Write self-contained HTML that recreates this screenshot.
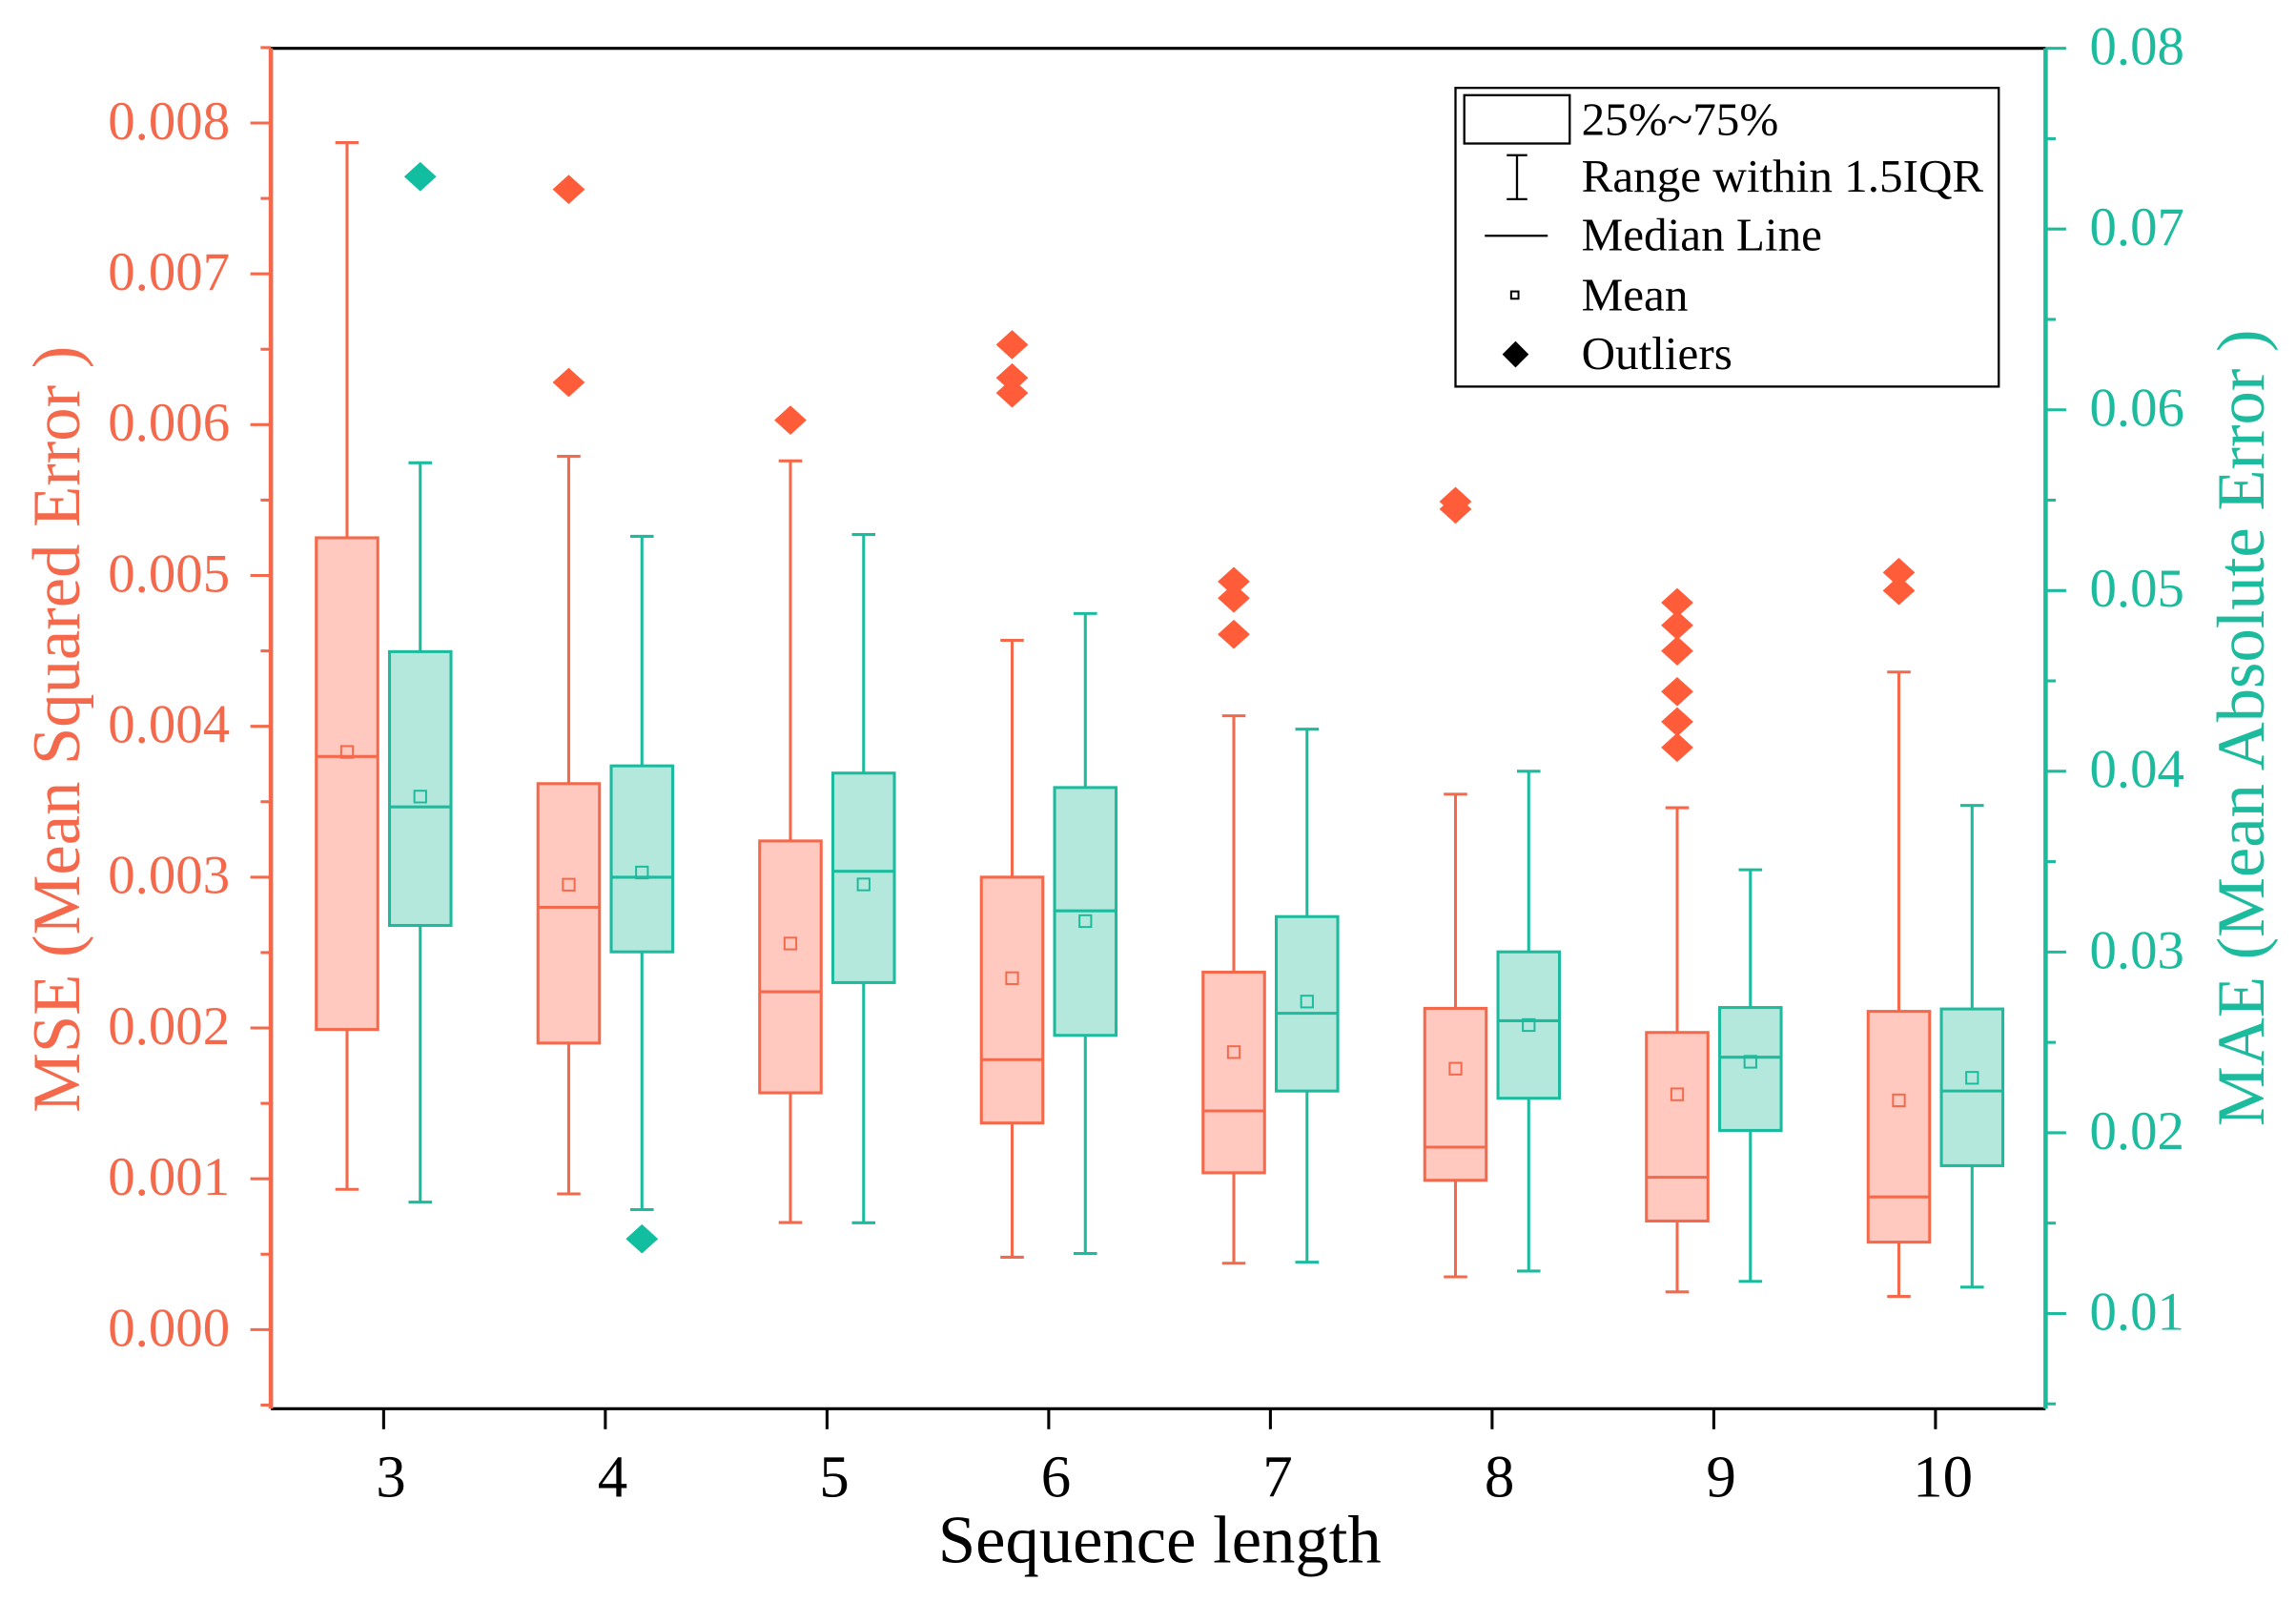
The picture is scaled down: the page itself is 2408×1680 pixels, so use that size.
<!DOCTYPE html>
<html><head><meta charset="utf-8"><style>
html,body{margin:0;padding:0;background:#fff;}
svg{display:block;font-family:"Liberation Serif",serif;}
</style></head><body>
<svg id="chart" width="2408" height="1680" viewBox="0 0 1568 1094" preserveAspectRatio="none" xmlns="http://www.w3.org/2000/svg"></svg>
<script>
const categories = ["3","4","5","6","7","8","9","10"];
const mseLow = [0.00093,0.0009,0.00071,0.00048,0.00044,0.00035,0.00025,0.00022];
const mseQ1 = [0.00199,0.0019,0.00157,0.00137,0.00104,0.00099,0.00072,0.00058];
const mseMed = [0.0038,0.0028,0.00224,0.00179,0.00145,0.00121,0.00101,0.00088];
const mseQ3 = [0.00525,0.00362,0.00324,0.003,0.00237,0.00213,0.00197,0.00211];
const mseHigh = [0.00787,0.00579,0.00576,0.00457,0.00407,0.00355,0.00346,0.00436];
const mseMean = [0.00383,0.00295,0.00256,0.00233,0.00184,0.00173,0.00156,0.00152];
const mseOut = [[],[0.00756,0.00628],[0.00603],[0.00653,0.00631,0.00621],[0.00496,0.00485,0.00461],[0.00549,0.00544],[0.00482,0.00467,0.0045,0.00423,0.00403,0.00386],[0.00502,0.0049]];
const maeLow = [0.01616,0.01575,0.01502,0.01332,0.01284,0.01235,0.01178,0.01146];
const maeQ1 = [0.03147,0.03001,0.02831,0.02539,0.02231,0.02191,0.02013,0.01818];
const maeMed = [0.03803,0.03414,0.03447,0.03228,0.02661,0.0262,0.02418,0.02231];
const maeQ3 = [0.04662,0.0403,0.0399,0.0391,0.03196,0.03001,0.02693,0.02685];
const maeHigh = [0.05707,0.053,0.0531,0.04873,0.04233,0.04,0.03455,0.03811];
const maeMean = [0.0386,0.0344,0.03374,0.03171,0.02726,0.02596,0.02393,0.02304];
const maeOut = [[0.0729],[0.01413],[],[],[],[],[],[]];
const leftTicks = ["0.000","0.001","0.002","0.003","0.004","0.005","0.006","0.007","0.008"];
const rightTicks = ["0.01","0.02","0.03","0.04","0.05","0.06","0.07","0.08"];

const NS="http://www.w3.org/2000/svg";
const svg=document.getElementById('chart');
const RED="#F4694B", TEAL="#1DBB9E";
const X0=185,X1=1397,Y0=33,Y1=962;
const yL=v=>908-v*103000;
const yR=v=>897-(v-0.01)*12343;
const xC=i=>262+i*151.4;
function el(tag,attrs,parent){const e=document.createElementNS(NS,tag);for(const k in attrs)e.setAttribute(k,attrs[k]);(parent||svg).appendChild(e);return e;}
function txt(s,attrs){const t=el('text',attrs);t.textContent=s;return t;}

let f=el('line',{x1:X0,y1:Y0,x2:X1,y2:Y0,stroke:'#000','stroke-width':2});


f=el('line',{x1:X0,y1:Y1,x2:X1,y2:Y1,stroke:'#000','stroke-width':2});


f=el('line',{x1:X0,y1:Y0,x2:X0,y2:Y1,stroke:RED,'stroke-width':3});


f=el('line',{x1:X1,y1:Y0,x2:X1,y2:Y1,stroke:TEAL,'stroke-width':3});



leftTicks.forEach((s,i)=>{
  const v=parseFloat(s),y=yL(v);
  el('line',{x1:X0-14,y1:y,x2:X0,y2:y,stroke:RED,'stroke-width':2});
  el('line',{x1:X0-7,y1:y-51.5,x2:X0,y2:y-51.5,stroke:RED,'stroke-width':2});
  const t=txt(s,{x:157,y:y+11,'text-anchor':'end','font-size':37,fill:RED});
  
  
});
el('line',{x1:X0-7,y1:yL(-0.0005),x2:X0,y2:yL(-0.0005),stroke:RED,'stroke-width':2});
rightTicks.forEach((s,i)=>{
  const v=parseFloat(s),y=yR(v);
  el('line',{x1:X1,y1:y,x2:X1+14,y2:y,stroke:TEAL,'stroke-width':2});
  el('line',{x1:X1,y1:y+61.7,x2:X1+7,y2:y+61.7,stroke:TEAL,'stroke-width':2});
  const t=txt(s,{x:1427,y:y+11,'font-size':37,fill:TEAL});
  
  
});
categories.forEach((c,i)=>{
  const x=xC(i);
  el('line',{x1:x,y1:Y1,x2:x,y2:Y1+14,stroke:'#000','stroke-width':2});
  const t=txt(c,{x:x+5,y:1022,'text-anchor':'middle','font-size':41,fill:'#000'});
  
  
});
let t=txt("Sequence length",{x:792,y:1067,'text-anchor':'middle','font-size':46,fill:'#000'});


t=txt("MSE (Mean Squared Error )",{x:0,y:0,'text-anchor':'middle','font-size':46,fill:RED,transform:'translate(54,498) rotate(-90)'});


t=txt("MAE (Mean Absolute Error )",{x:0,y:0,'text-anchor':'middle','font-size':46,fill:TEAL,transform:'translate(1546,497) rotate(-90)'});



function drawBox(cx,lo,q1,md,q3,hi,mn,outs,ys,col,fill,name,outCol){
  const g=el('g',{});
  
  
  const w=21;
  el('line',{x1:cx,y1:ys(hi),x2:cx,y2:ys(q3),stroke:col,'stroke-width':2},g);
  el('line',{x1:cx,y1:ys(q1),x2:cx,y2:ys(lo),stroke:col,'stroke-width':2},g);
  el('line',{x1:cx-8,y1:ys(hi),x2:cx+8,y2:ys(hi),stroke:col,'stroke-width':2},g);
  el('line',{x1:cx-8,y1:ys(lo),x2:cx+8,y2:ys(lo),stroke:col,'stroke-width':2},g);
  el('rect',{x:cx-w,y:ys(q3),width:2*w,height:ys(q1)-ys(q3),fill:fill,stroke:col,'stroke-width':2},g);
  el('line',{x1:cx-w,y1:ys(md),x2:cx+w,y2:ys(md),stroke:col,'stroke-width':2},g);
  el('rect',{x:cx-4,y:ys(mn)-4,width:8,height:8,fill:'none',stroke:col,'stroke-width':1.3},g);
  outs.forEach(v=>{
    const y=ys(v);
    const d=el('polygon',{points:`${cx},${y-10} ${cx+11},${y} ${cx},${y+10} ${cx-11},${y}`,fill:outCol},g);
    
    
  });
}
categories.forEach((c,i)=>{
  drawBox(xC(i)-25,mseLow[i],mseQ1[i],mseMed[i],mseQ3[i],mseHigh[i],mseMean[i],mseOut[i],yL,RED,'#FFC9BF','mse-box-'+c,'#FF5D3A');
  drawBox(xC(i)+25,maeLow[i],maeQ1[i],maeMed[i],maeQ3[i],maeHigh[i],maeMean[i],maeOut[i],yR,TEAL,'#B5E8DC','mae-box-'+c,'#12BEA0');
});

const lg=el('g',{});


el('rect',{x:994,y:60,width:371,height:204,fill:'#fff',stroke:'#000','stroke-width':1.5},lg);
el('rect',{x:1000,y:65,width:72,height:33,fill:'none',stroke:'#000','stroke-width':1.5},lg);
el('line',{x1:1036,y1:106,x2:1036,y2:136,stroke:'#000','stroke-width':1.5},lg);
el('line',{x1:1029,y1:106,x2:1043,y2:106,stroke:'#000','stroke-width':1.5},lg);
el('line',{x1:1029,y1:136,x2:1043,y2:136,stroke:'#000','stroke-width':1.5},lg);
el('line',{x1:1014,y1:161,x2:1057,y2:161,stroke:'#000','stroke-width':1.5},lg);
el('rect',{x:1032,y:199,width:5,height:5,fill:'none',stroke:'#000','stroke-width':1.3},lg);
el('polygon',{points:'1035,233 1044,242 1035,251 1026,242',fill:'#000'},lg);
const labels=["25%~75%","Range within 1.5IQR","Median Line","Mean","Outliers"];
const ly=[92,131,171,212,252];
labels.forEach((s,i)=>{
  const e=txt(s,{x:1080,y:ly[i],'font-size':32,fill:'#000'});
  
  
});
</script>
</body></html>
